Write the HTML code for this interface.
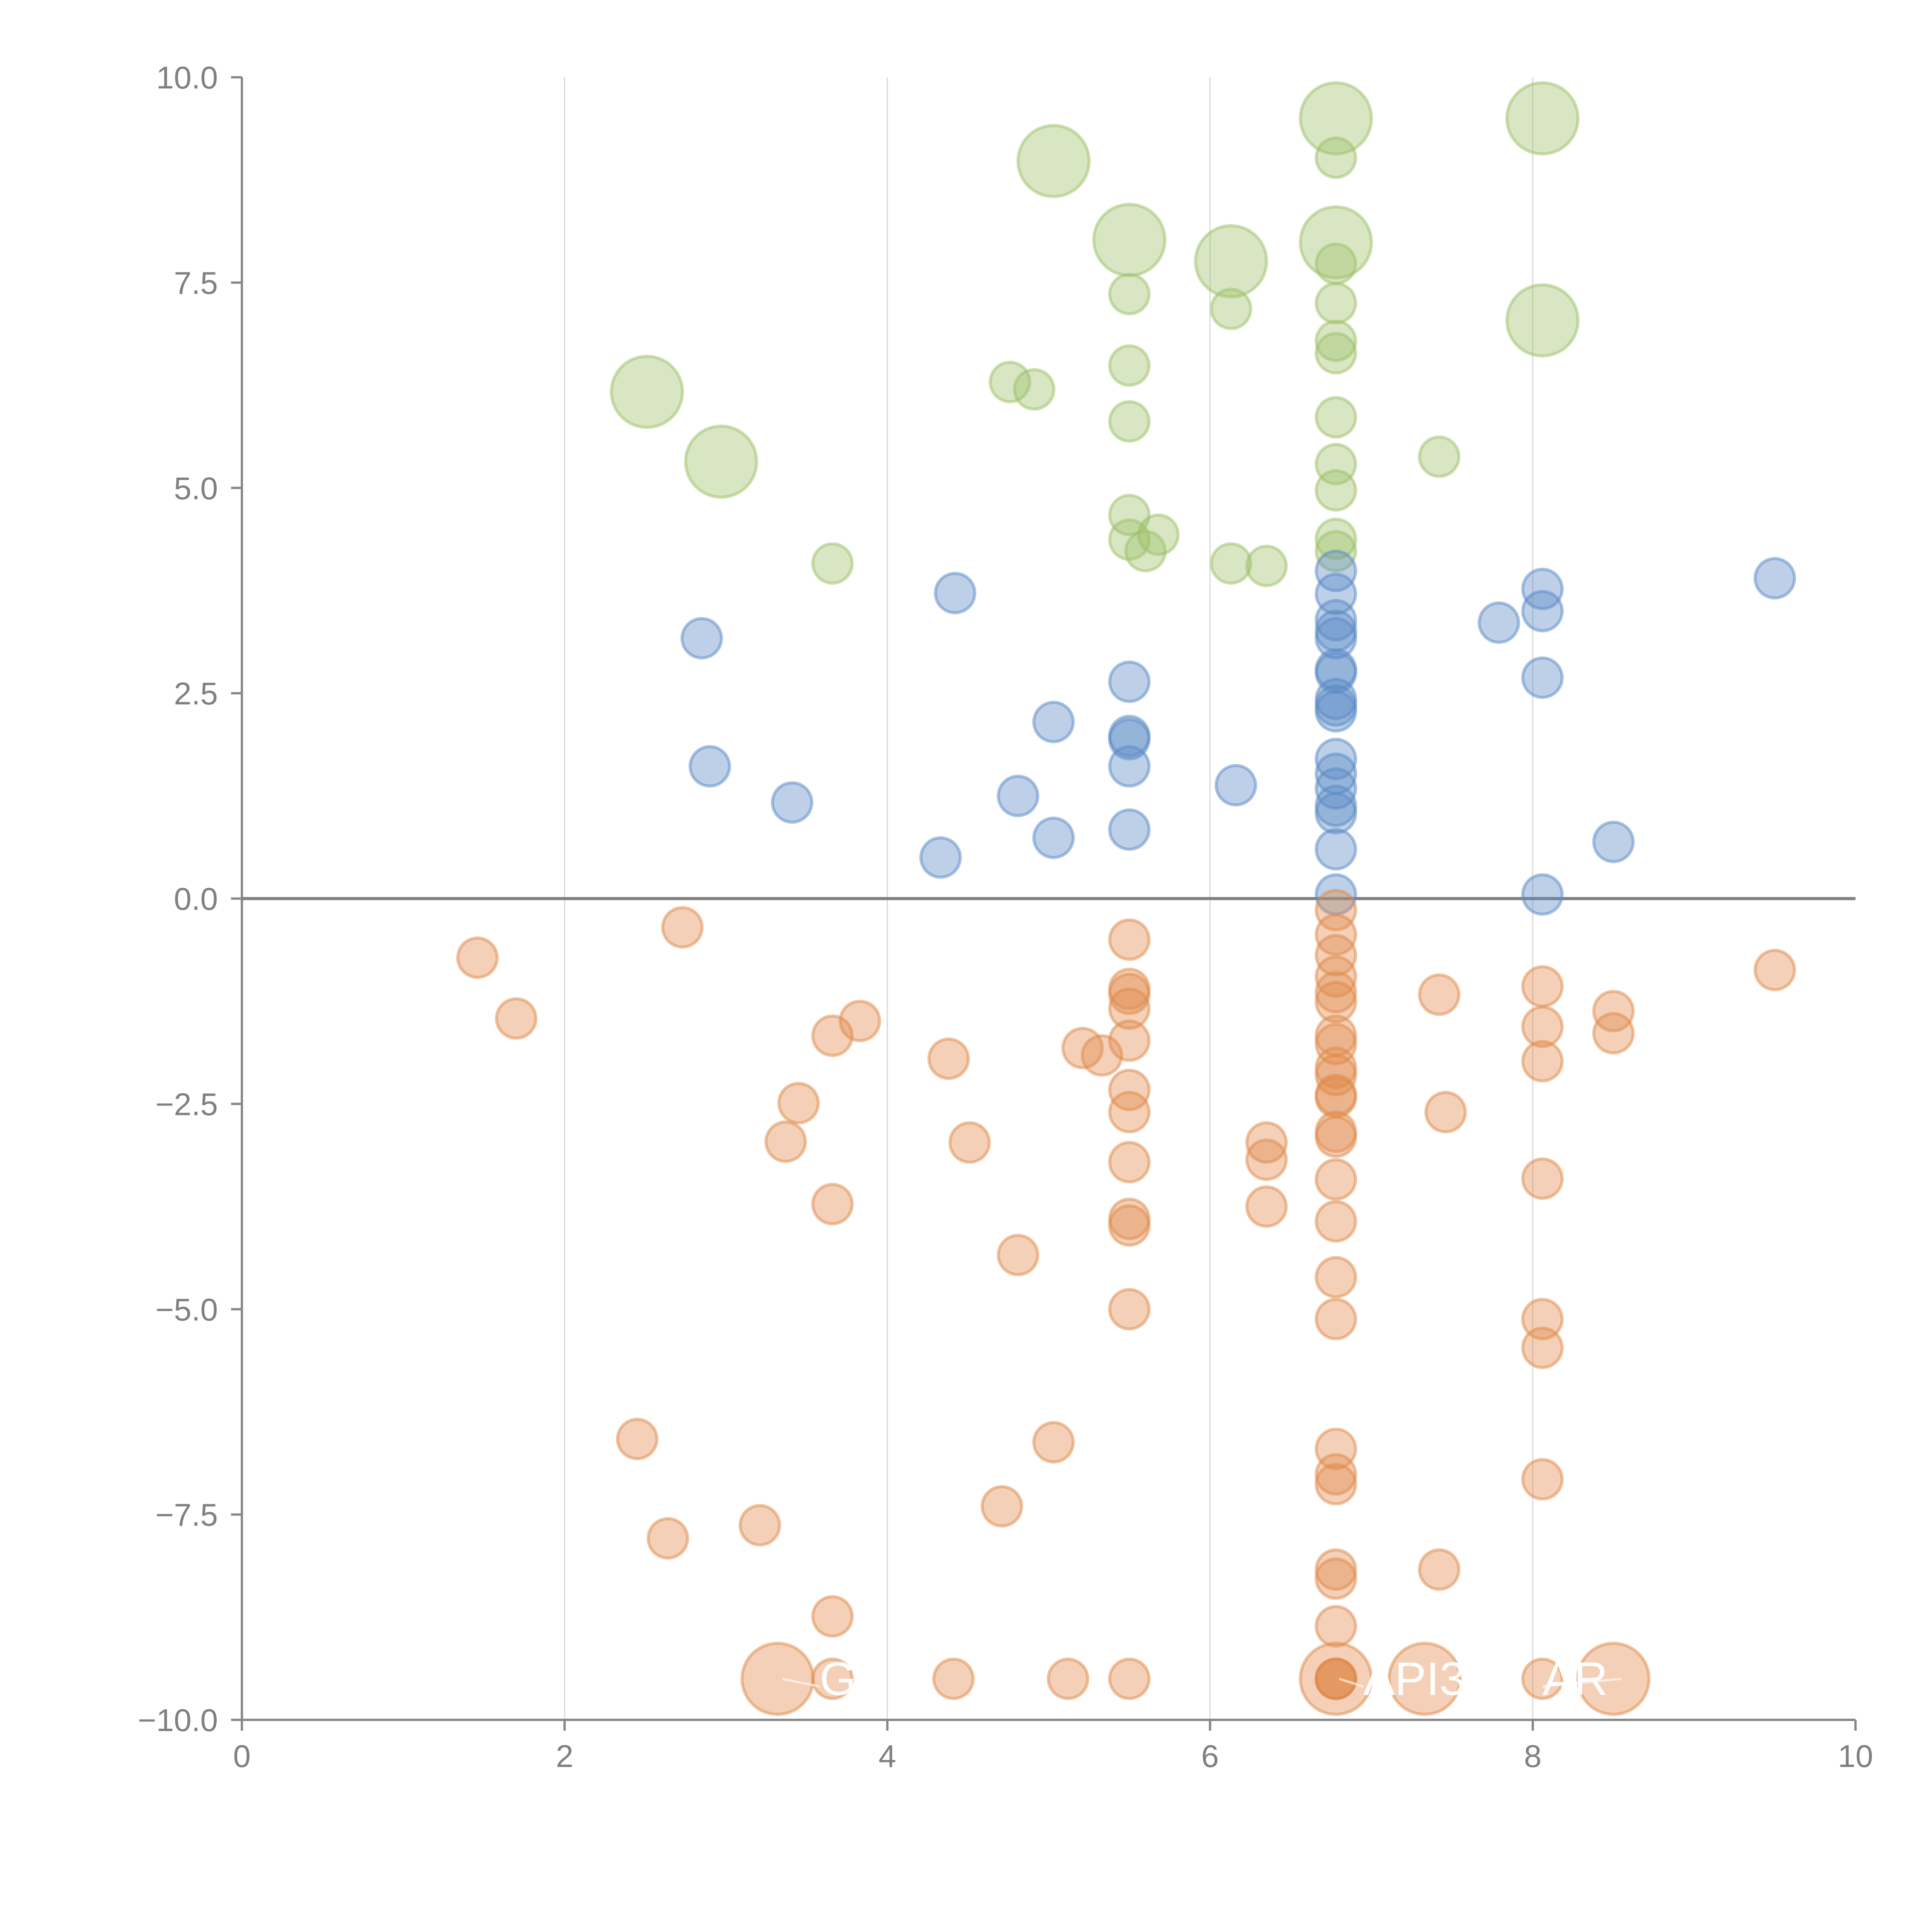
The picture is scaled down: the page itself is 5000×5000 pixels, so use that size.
<!DOCTYPE html>
<html><head><meta charset="utf-8"><style>html,body{margin:0;padding:0;background:#fff}svg{display:block}</style></head>
<body>
<svg id="chart" width="5000" height="5000" viewBox="0 0 5000 5000" xmlns="http://www.w3.org/2000/svg" font-family="Liberation Sans, sans-serif">
<g id="grid"></g>
<g id="axes"></g>
<g id="marks"></g>
<g id="labels"></g>
</svg>
<script>
const xTicks = [0, 2, 4, 6, 8, 10];
const xTickLabels = ["0", "2", "4", "6", "8", "10"];
const yTicks = [10, 7.5, 5, 2.5, 0, -2.5, -5, -7.5, -10];
const yTickLabels = ["10.0", "7.5", "5.0", "2.5", "0.0", "\u22122.5", "\u22125.0", "\u22127.5", "\u221210.0"];
const greenX = [6.78,8.06,6.78,5.03,5.5,6.13,6.78,6.78,5.5,6.13,6.78,8.06,6.78,6.78,5.5,4.76,4.91,2.51,5.5,6.78,2.97,7.42,6.78,6.78,5.5,5.68,5.5,5.6,6.78,6.78,3.66,6.13,6.35];
const greenY = [9.5,9.5,9.02,8.98,8.02,7.76,7.99,7.73,7.36,7.18,7.25,7.04,6.79,6.64,6.49,6.29,6.2,6.17,5.81,5.86,5.32,5.38,5.29,4.97,4.67,4.43,4.37,4.23,4.38,4.23,4.08,4.08,4.05];
const greenBig = [1,1,0,1,1,1,1,0,0,0,0,1,0,0,0,0,0,1,0,0,1,0,0,0,0,0,0,0,0,0,0,0,0];
const blueX = [6.78,4.42,6.78,8.06,9.5,6.78,8.06,7.79,2.85,6.78,6.78,6.78,8.06,5.5,6.78,6.78,5.03,5.5,5.5,2.9,5.5,6.78,6.78,6.78,6.16,4.81,3.41,6.78,6.78,5.5,5.03,8.5,6.78,4.33,6.78,8.06,6.78,6.78];
const blueY = [3.99,3.72,3.71,3.77,3.9,3.39,3.5,3.36,3.17,3.26,3.17,2.79,2.69,2.64,2.43,2.28,2.15,1.98,1.94,1.61,1.61,1.7,1.52,1.34,1.38,1.25,1.17,1.13,1.04,0.84,0.74,0.69,0.6,0.5,0.05,0.05,2.35,2.75];
const orangeX = [6.78,2.73,6.78,5.5,1.46,6.78,9.5,6.78,8.06,5.5,5.5,7.42,6.78,6.78,5.5,8.5,1.7,3.83,8.06,3.66,6.78,8.5,5.5,6.78,5.21,5.33,4.38,8.06,6.78,6.78,5.5,6.78,6.78,3.45,7.46,5.5,6.78,6.78,3.37,4.51,6.35,6.35,5.5,8.06,6.78,3.66,6.35,5.5,6.78,5.5,4.81,6.78,5.5,6.78,8.06,8.06,2.45,5.03,6.78,6.78,6.78,8.06,4.71,3.21,2.64,6.78,6.78,7.42,3.66,6.78,3.32,3.66,4.41,5.12,5.5,6.78,6.78,6.78,6.78,7.33,8.06,8.5];
const orangeY = [-0.14,-0.35,-0.44,-0.5,-0.72,-0.69,-0.87,-0.95,-1.07,-1.1,-1.16,-1.17,-1.14,-1.26,-1.34,-1.37,-1.46,-1.49,-1.56,-1.67,-1.67,-1.64,-1.73,-1.77,-1.82,-1.91,-1.95,-1.98,-2.06,-2.15,-2.33,-2.39,-2.42,-2.49,-2.6,-2.6,-2.84,-2.9,-2.96,-2.97,-2.97,-3.18,-3.21,-3.41,-3.42,-3.72,-3.75,-3.9,-3.93,-3.98,-4.34,-4.61,-5.0,-5.12,-5.12,-5.47,-6.58,-6.62,-6.7,-7.01,-7.13,-7.07,-7.4,-7.63,-7.79,-8.17,-8.28,-8.17,-8.74,-8.86,-9.5,-9.5,-9.5,-9.5,-9.5,-9.5,-9.5,-9.5,-9.5,-9.5,-9.5,-9.5];
const orangeBig = orangeX.map((v,i)=> (i===70||i===75||i===79||i===81)?1:0);

const NS = "http://www.w3.org/2000/svg";
const X0 = 626, X1 = 4802, Y0 = 4451, Y1 = 200;
function sx(v){ return X0 + (v - 0) / 10 * (X1 - X0); }
function sy(v){ return Y0 - (v + 10) / 20 * (Y0 - Y1); }
function mk(tag, attrs, parent){ const e = document.createElementNS(NS, tag); for (const k in attrs) e.setAttribute(k, attrs[k]); parent.appendChild(e); return e; }

const grid = document.getElementById('grid');
const axes = document.getElementById('axes');
const marks = document.getElementById('marks');
const labels = document.getElementById('labels');

xTicks.forEach((t, i) => {
  if (t > 0 && t < 10) {
    const g = mk('line', {x1:sx(t), x2:sx(t), y1:Y1, y2:Y0, stroke:'#d8d8d8', 'stroke-width':3}, grid);
    
    
  }
  const tk = mk('line', {x1:sx(t), x2:sx(t), y1:Y0, y2:Y0+28, stroke:'#888', 'stroke-width':6}, axes);
  
  
  const tl = mk('text', {x:sx(t), y:Y0+122, 'text-anchor':'middle', 'font-size':82, fill:'#808080'}, axes);
  tl.textContent = xTickLabels[i];
  
  
});
yTicks.forEach((t, i) => {
  const tk = mk('line', {x1:X0-28, x2:X0, y1:sy(t), y2:sy(t), stroke:'#888', 'stroke-width':6}, axes);
  
  
  const tl = mk('text', {x:X0-62, y:sy(t)+29, 'text-anchor':'end', 'font-size':82, fill:'#808080'}, axes);
  tl.textContent = yTickLabels[i];
  
  
});
const ya = mk('line', {x1:X0, x2:X0, y1:Y1, y2:Y0, stroke:'#888', 'stroke-width':6}, axes);


const xa = mk('line', {x1:X0, x2:X1, y1:Y0, y2:Y0, stroke:'#888', 'stroke-width':6}, axes);


const zl = mk('line', {x1:X0, x2:X1, y1:sy(0), y2:sy(0), stroke:'#808080', 'stroke-width':8}, axes);



function drawSeries(xs, ys, big, color, name){
  xs.forEach((v, i) => {
    const r = (big && big[i]) ? 92 : 51;
    const c = mk('circle', {cx:sx(v), cy:sy(ys[i]), r:r, fill:color, 'fill-opacity':0.4, stroke:color, 'stroke-opacity':0.5, 'stroke-width':8}, marks);
    
    
  });
}
drawSeries(greenX, greenY, greenBig, '#9dc068', 'green-bubble');
drawSeries(blueX, blueY, null, '#5a89c6', 'blue-bubble');
drawSeries(orangeX, orangeY, orangeBig, '#e0894a', 'orange-bubble');

const labelText = ["GPT", "API3", "AR"];
const labelX = [3.58, 6.95, 8.06];
const labelY = [-9.5, -9.5, -9.5];
const leaderX = [3.35, 6.8, 8.55];
const leaderY = [-9.5, -9.5, -9.5];
labelText.forEach((t, i) => {
  const ln = mk('line', {x1:sx(leaderX[i]), y1:sy(leaderY[i]), x2:sx(labelX[i]), y2:sy(labelY[i])+20, stroke:'#ffffff', 'stroke-opacity':0.6, 'stroke-width':6}, labels);
  
  
  const tx = mk('text', {x:sx(labelX[i]), y:sy(labelY[i])+42, 'font-size':122, fill:'#ffffff'}, labels);
  tx.textContent = t;
  
  
});
</script>
</body></html>
